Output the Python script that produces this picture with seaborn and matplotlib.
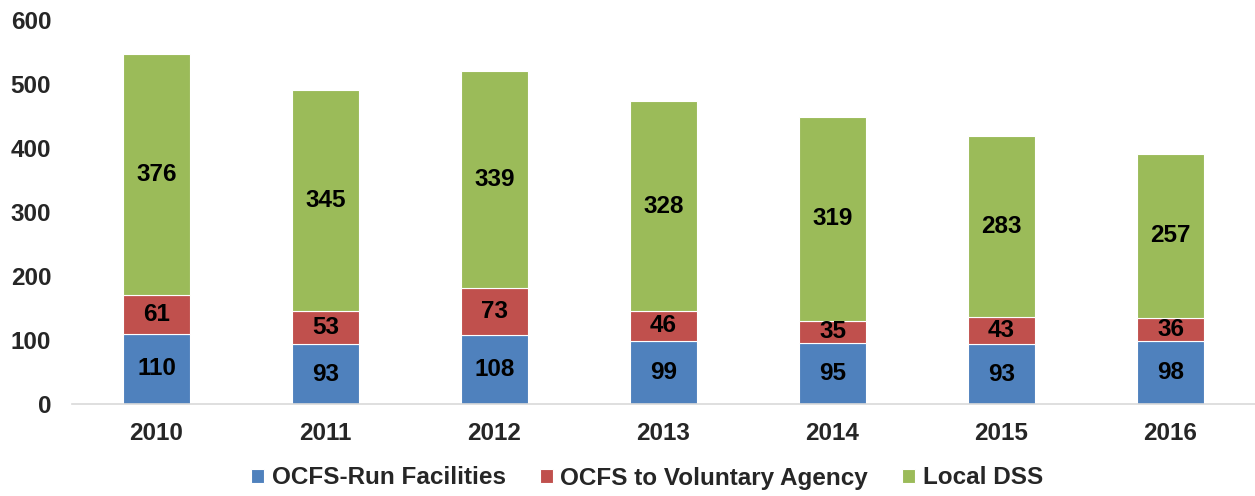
import numpy as np
import matplotlib
matplotlib.use("Agg")
import matplotlib.pyplot as plt
import seaborn as sns

years = ["2010", "2011", "2012", "2013", "2014", "2015", "2016"]
ocfs_run = [110, 93, 108, 99, 95, 93, 98]
ocfs_voluntary = [61, 53, 73, 46, 35, 43, 36]
local_dss = [376, 345, 339, 328, 319, 283, 257]

series = [
    ("OCFS-Run Facilities", ocfs_run, "#4F81BD"),
    ("OCFS to Voluntary Agency", ocfs_voluntary, "#C0504D"),
    ("Local DSS", local_dss, "#9BBB59"),
]

FS = 17.5

sns.set_theme(style="white")
plt.rcParams["font.family"] = ["Liberation Sans", "DejaVu Sans"]
plt.rcParams["font.weight"] = "bold"

fig = plt.figure(figsize=(12.55, 4.96), dpi=100)
ax = fig.add_axes([72 / 1255, 92 / 496, 1 - 72 / 1255, 384 / 496])

bottom = np.zeros(len(years))
for name, vals, col in series:
    sns.barplot(x=years, y=vals, bottom=bottom, color=col, width=0.4, saturation=1,
                edgecolor="white", linewidth=0.8, label=name, ax=ax)
    ax.bar_label(ax.containers[-1], labels=[str(v) for v in vals],
                 label_type="center", fontsize=FS, fontweight="bold", color="black")
    bottom = bottom + np.array(vals)

ax.set_ylim(0, 600)
ax.set_xlim(-0.5, len(years) - 0.5)
ax.set_yticks(range(0, 601, 100))
ax.tick_params(axis="y", length=0, pad=15, labelsize=FS)
ax.tick_params(axis="x", length=0, pad=13, labelsize=FS)
for lbl in ax.get_xticklabels() + ax.get_yticklabels():
    lbl.set_fontweight("bold")
ax.set_xlabel("")
ax.set_ylabel("")

for s in ["left", "right", "top"]:
    ax.spines[s].set_visible(False)
ax.spines["bottom"].set_color("#D9D9D9")
ax.spines["bottom"].set_linewidth(1.2)

handles, labels = ax.get_legend_handles_labels()
if ax.get_legend() is not None:
    ax.get_legend().remove()
fig.legend(handles, labels, loc="center", bbox_to_anchor=(647 / 1255, 1 - 478 / 496),
           ncol=3, frameon=False, handlelength=0.55, handleheight=0.55,
           handletextpad=0.3, columnspacing=1.4, prop={"weight": "bold", "size": FS})

fig.savefig("out.png", dpi=100)
